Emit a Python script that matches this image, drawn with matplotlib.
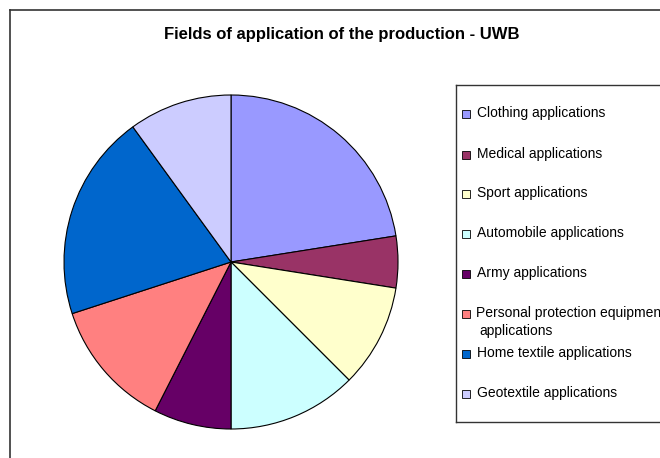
import matplotlib
matplotlib.use("Agg")
import matplotlib.pyplot as plt
from matplotlib.lines import Line2D
from matplotlib.patches import Rectangle

labels = ['Clothing applications', 'Medical applications', 'Sport applications',
          'Automobile applications', 'Army applications',
          'Personal protection equipment\napplications',
          'Home textile applications', 'Geotextile applications']
shares = [22.5, 5, 10, 12.5, 7.5, 12.5, 20, 10]
colors = ['#9999FF', '#993366', '#FFFFCC', '#CCFFFF', '#660066',
          '#FF8080', '#0066CC', '#CCCCFF']
legend_y = [113, 154, 193, 233, 273, 313, 353, 393]

W, H = 660, 458
plt.rcParams['font.family'] = ['Liberation Sans', 'DejaVu Sans']

fig = plt.figure(figsize=(W / 100, H / 100), dpi=100)
fig.patch.set_facecolor('white')


def fx(px):
    return px / W


def fy(py):
    return 1 - py / H


# outer chart frame (runs off the right and bottom edges)
fig.add_artist(Line2D([fx(10), fx(10)], [fy(10), fy(470)], color='#333333', lw=1.2))
fig.add_artist(Line2D([fx(10), fx(680)], [fy(10), fy(10)], color='#333333', lw=1.2))

fig.text(fx(342), fy(35), 'Fields of application of the production - UWB',
         ha='center', va='center', fontsize=12, fontweight='bold')

# pie
cx, cy, r = 231, 262, 167
ax = fig.add_axes([fx(cx - r), fy(cy + r), (2 * r) / W, (2 * r) / H])
ax.pie(shares, colors=colors, startangle=90, counterclock=False,
       wedgeprops=dict(edgecolor='black', linewidth=0.8))
ax.set_xlim(-1, 1)
ax.set_ylim(-1, 1)
ax.set_aspect('auto')

# legend box
fig.add_artist(Line2D([fx(456), fx(680)], [fy(85), fy(85)], color='#333333', lw=1.0))
fig.add_artist(Line2D([fx(456), fx(680)], [fy(422), fy(422)], color='#333333', lw=1.0))
fig.add_artist(Line2D([fx(456), fx(456)], [fy(85), fy(422)], color='#333333', lw=1.0))

for lab, col, yy in zip(labels, colors, legend_y):
    fig.add_artist(Rectangle((fx(462), fy(yy + 5)), 8 / W, 8 / H,
                             facecolor=col, edgecolor='black', lw=0.6))
    if '\n' in lab:
        first, second = lab.split('\n')
        fig.text(fx(476), fy(yy), first, ha='left', va='center', fontsize=10)
        fig.text(fx(479), fy(yy + 18), second, ha='left', va='center', fontsize=10)
    else:
        fig.text(fx(477), fy(yy), lab, ha='left', va='center', fontsize=10)

fig.savefig('out.png', dpi=100)
